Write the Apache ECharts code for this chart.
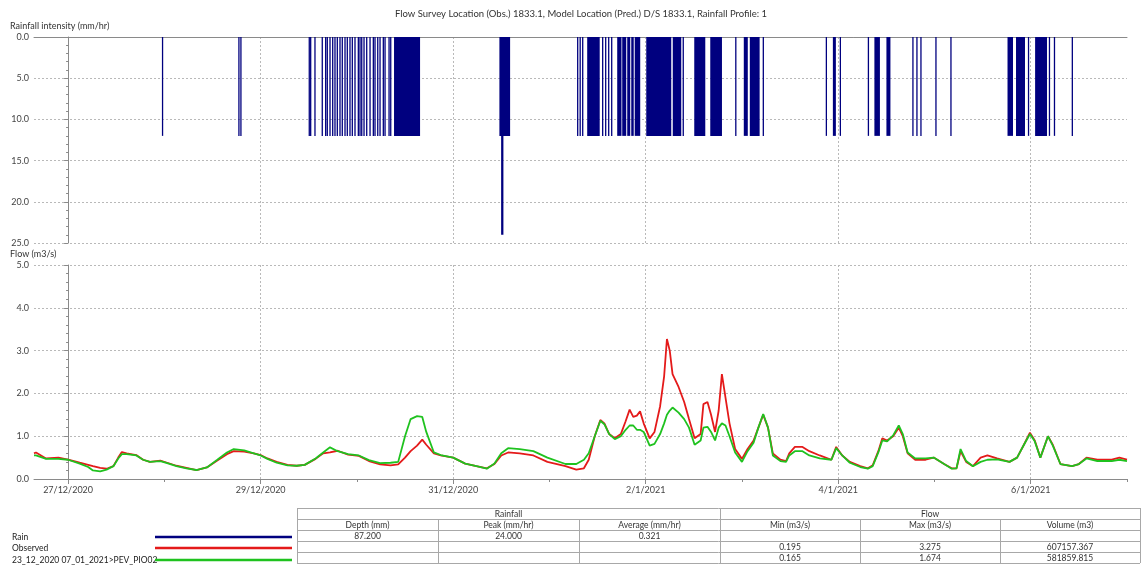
<!DOCTYPE html>
<html><head><meta charset="utf-8">
<script src="https://cdn.jsdelivr.net/npm/echarts@6/dist/echarts.min.js"></script>
<style>html,body{margin:0;padding:0;background:#fff}#c{width:1142px;height:566px}</style>
</head><body><div id="c"></div>
<script>
// ---------- DATA ----------
const titleText = 'Flow Survey Location (Obs.) 1833.1, Model Location (Pred.) D/S 1833.1, Rainfall Profile: 1';
const rainAxisName = 'Rainfall intensity (mm/hr)';
const flowAxisName = 'Flow (m3/s)';
// time origin 27/12/2020 00:00, times in hours from it
const xStartHours = -8.5;
const xEndHours = 264;
const flowHours = [
 -8.5,-8,-5.5,-2.4,0,2.9,5,6.2,8,9.6,
 11.3,12.5,13.4,14.6,17,18.7,20.4,23,24.7,27,
 29.5,32,34.6,37.2,39.6,41.3,43.9,46.3,48,49.7,
 52,54.7,57,59,61.7,63.6,65.3,67.2,69.8,72.5,
 75,77.8,80.4,82.3,84,85.4,87,88.3,89.3,91.2,
 92.9,96,99,101.8,104.4,106.3,108,109.7,112.6,116,
 119.5,124,126.7,128.6,129.8,131.3,132.7,133.7,134.9,136.3,
 137.8,139,140,140.9,141.8,142.6,143.5,145,146.2,147.6,
 148.6,149.3,150,150.7,152.2,153.6,154.8,156.2,157.7,158.4,
 159.4,160.3,161.3,162.2,163,163.9,164.9,166.3,168,169.4,
 170.9,172.1,173.3,174.5,175.7,177.6,179,179.8,181.2,183.1,
 184.8,187.4,190.3,191.5,193,194.9,197.5,199.4,200.6,202,
 203,204.2,205.7,207.1,208.1,209.3,211.2,213.8,215.8,218.4,
 220.3,221.5,222.5,223.9,225.6,227.5,229.2,231.6,234.7,236.6,
 238.3,239.8,241,242.4,244.3,245.5,247.4,250.3,252,253.9,
 256.6,260.2,262.1,264
];
const observedFlow = [
 0.60,0.62,0.48,0.50,0.45,0.38,0.33,0.30,0.26,0.24,
 0.30,0.50,0.63,0.60,0.56,0.45,0.40,0.43,0.38,0.31,
 0.26,0.21,0.27,0.43,0.58,0.65,0.64,0.60,0.56,0.48,
 0.40,0.33,0.31,0.33,0.47,0.60,0.62,0.66,0.57,0.54,
 0.42,0.34,0.32,0.34,0.50,0.65,0.78,0.92,0.80,0.60,
 0.55,0.50,0.36,0.30,0.25,0.35,0.55,0.62,0.60,0.55,
 0.40,0.30,0.22,0.25,0.45,1.00,1.38,1.30,1.05,0.95,
 1.05,1.35,1.62,1.45,1.48,1.58,1.30,0.95,1.10,1.70,
 2.40,3.27,3.00,2.45,2.15,1.80,1.40,0.95,1.05,1.75,
 1.80,1.50,1.10,1.60,2.45,1.90,1.30,0.70,0.47,0.70,
 0.90,1.20,1.50,1.20,0.60,0.45,0.42,0.60,0.75,0.75,
 0.65,0.55,0.45,0.75,0.55,0.40,0.30,0.25,0.32,0.65,
 0.95,0.90,1.00,1.20,1.00,0.60,0.45,0.45,0.50,0.35,
 0.25,0.25,0.65,0.40,0.30,0.50,0.55,0.48,0.40,0.50,
 0.80,1.08,0.90,0.50,1.00,0.80,0.35,0.30,0.35,0.50,
 0.45,0.45,0.50,0.45
];
const predictedFlow = [
 0.55,0.55,0.47,0.47,0.45,0.36,0.28,0.20,0.18,0.22,
 0.30,0.48,0.58,0.58,0.55,0.45,0.40,0.42,0.37,0.30,
 0.25,0.21,0.27,0.45,0.62,0.70,0.67,0.60,0.55,0.47,
 0.38,0.32,0.31,0.33,0.48,0.62,0.74,0.65,0.58,0.55,
 0.44,0.37,0.38,0.40,1.00,1.40,1.47,1.45,1.10,0.62,
 0.56,0.50,0.36,0.30,0.24,0.36,0.60,0.72,0.70,0.65,
 0.50,0.35,0.35,0.45,0.60,1.00,1.36,1.28,1.05,0.93,
 1.00,1.15,1.25,1.25,1.15,1.15,1.10,0.78,0.82,1.05,
 1.30,1.50,1.60,1.67,1.55,1.40,1.20,0.80,0.90,1.20,
 1.22,1.10,0.90,1.20,1.30,1.25,1.00,0.62,0.40,0.65,
 0.85,1.20,1.52,1.20,0.55,0.42,0.40,0.55,0.65,0.65,
 0.55,0.48,0.45,0.72,0.55,0.38,0.28,0.24,0.30,0.62,
 0.90,0.88,1.02,1.25,1.05,0.62,0.48,0.48,0.50,0.35,
 0.24,0.25,0.70,0.42,0.30,0.40,0.45,0.46,0.40,0.50,
 0.80,1.05,0.88,0.50,1.00,0.78,0.35,0.30,0.35,0.48,
 0.42,0.42,0.45,0.42
];
// rainfall pulses: start/end hour, intensity (mm/hr)
const rainStart = [
 23.55,42.59,43.09,60.13,60.48,61.55,63.37,64.22,64.62,65.30,
 65.97,66.54,67.12,67.79,68.36,69.04,69.61,70.28,70.86,71.53,
 72.36,72.78,73.21,73.78,74.45,75.28,76.10,76.52,77.20,77.77,
 78.59,79.02,80.02,80.44,81.26,107.53,107.96,127.05,127.67,128.30,
 129.42,133.28,134.03,134.78,135.53,136.90,138.15,139.40,140.40,141.27,
 144.14,150.75,153.37,156.11,160.10,166.47,168.46,169.96,173.33,189.05,
 190.67,192.54,199.53,201.02,204.02,210.63,211.63,212.63,216.37,220.11,
 234.21,236.33,239.45,241.09,244.67,245.92,250.37
];
const rainEnd = [
 23.55,42.59,43.09,60.13,60.48,61.55,63.37,64.22,64.62,65.30,
 65.97,66.54,67.12,67.79,68.36,69.04,69.61,70.28,70.86,71.53,
 72.36,72.78,73.21,73.78,74.45,75.28,76.10,76.52,77.20,77.77,
 78.59,79.02,80.02,80.44,87.75,110.20,108.53,127.05,127.67,128.30,
 132.54,133.28,134.03,134.78,135.53,137.97,139.15,140.15,141.02,142.64,
 150.38,152.87,153.37,158.86,163.02,166.47,169.46,172.41,173.33,189.05,
 191.42,192.54,199.53,202.40,205.02,210.63,211.63,212.63,216.37,220.11,
 235.58,238.57,239.45,244.06,244.67,245.92,250.37
];
const rainIntensity = [
 12,12,12,12,12,12,12,12,12,12,
 12,12,12,12,12,12,12,12,12,12,
 12,12,12,12,12,12,12,12,12,12,
 12,12,12,12,12,12,24,12,12,12,
 12,12,12,12,12,12,12,12,12,12,
 12,12,12,12,12,12,12,12,12,12,
 12,12,12,12,12,12,12,12,12,12,
 12,12,12,12,12,12,12
];
const rainAxis = {min: 0, max: 25, interval: 5};
const flowAxis = {min: 0, max: 5, interval: 1};
const legendNames = ['Rain', 'Observed', '23_12_2020 07_01_2021>PEV_PIO02'];
const tableGroups = ['Rainfall', 'Flow'];
const tableHeaders = ['Depth (mm)', 'Peak (mm/hr)', 'Average (mm/hr)', 'Min (m3/s)', 'Max (m3/s)', 'Volume (m3)'];
const tableRows = [
 ['87.200', '24.000', '0.321', '', '', ''],
 ['', '', '', '0.195', '3.275', '607157.367'],
 ['', '', '', '0.165', '1.674', '581859.815']
];
// ---------- STYLE ----------
const colors = ['#00007f', '#e41a1a', '#1fc21f'];
const FONT = 'Lato, "Noto Sans", sans-serif';
const T0 = Date.UTC(2020, 11, 27);
const xMin = xStartHours / 24, xMax = xEndHours / 24;
function dayLabel(v) {
  const d = new Date(T0 + Math.round(v) * 86400000);
  return d.getUTCDate() + '/' + (d.getUTCMonth() + 1) + '/' + d.getUTCFullYear();
}
const gridLine = {color: '#b9b9b9', type: [2, 2], width: 1};
const axisGray = '#8a8a8a';
function xAxisCfg(gi, labels) {
  return {
    type: 'value', gridIndex: gi, min: xMin, max: xMax, minInterval: 2, maxInterval: 2,
    axisLine: {show: true, onZero: true, lineStyle: {color: axisGray}},
    axisTick: {show: labels, length: 5, lineStyle: {color: axisGray}},
    axisLabel: {show: labels, showMinLabel: false, showMaxLabel: false, formatter: dayLabel,
      fontSize: 9, color: '#444', margin: 7, fontFamily: FONT},
    splitLine: {show: true, showMinLine: false, showMaxLine: false, lineStyle: gridLine}
  };
}
function yAxisCfg(gi, ax, inverse) {
  return {
    type: 'value', gridIndex: gi, min: ax.min, max: ax.max, interval: ax.interval, inverse: inverse,
    axisLine: {show: true, lineStyle: {color: axisGray}},
    axisTick: {show: true, length: 4, lineStyle: {color: axisGray}},
    minorTick: {show: true, splitNumber: 5, length: 2, lineStyle: {color: axisGray}},
    axisLabel: {formatter: v => v.toFixed(1), fontSize: 9, color: '#444', margin: 5, fontFamily: FONT},
    splitLine: {show: true, lineStyle: gridLine}
  };
}
const oddDays = [];
for (let d = Math.ceil(xMin); d <= xMax; d++) if (d % 2 !== 0) oddDays.push(d);

// ---------- GRAPHICS (title, axis names, legend, table) ----------
const graphics = [];
function txt(x, y, s, opts) {
  graphics.push({type: 'text', x: x, y: y, silent: true,
    style: Object.assign({text: s, fill: '#333', font: '9px ' + FONT, textAlign: 'left', textVerticalAlign: 'middle'}, opts || {})});
}
function ln(x1, y1, x2, y2, color, w) {
  graphics.push({type: 'line', silent: true, shape: {x1, y1, x2, y2}, style: {stroke: color, lineWidth: w}});
}
txt(581, 14, titleText, {textAlign: 'center', font: '9.5px ' + FONT});
txt(10, 26, rainAxisName);
txt(10, 254, flowAxisName);
const legY = [537, 548, 560];
legendNames.forEach((n, i) => {
  txt(12, legY[i], n, {font: '8.5px ' + FONT, fill: '#222'});
  ln(155, legY[i], 292, legY[i], colors[i], 2.5);
});
// table
const colX = [297, 438, 579, 720, 860, 1000, 1140];
const rowY = [508, 519, 530, 541, 552, 563];
const tb = '#a8a8a8';
rowY.forEach(y => ln(colX[0], y + 0.5, colX[6], y + 0.5, tb, 1));
[0, 3, 6].forEach(c => ln(colX[c] + 0.5, rowY[0], colX[c] + 0.5, rowY[5], tb, 1));
[1, 2, 4, 5].forEach(c => ln(colX[c] + 0.5, rowY[1], colX[c] + 0.5, rowY[5], tb, 1));
txt((colX[0] + colX[3]) / 2, (rowY[0] + rowY[1]) / 2 + 0.5, tableGroups[0], {textAlign: 'center', font: '8.5px ' + FONT});
txt((colX[3] + colX[6]) / 2, (rowY[0] + rowY[1]) / 2 + 0.5, tableGroups[1], {textAlign: 'center', font: '8.5px ' + FONT});
tableHeaders.forEach((h, c) => txt((colX[c] + colX[c + 1]) / 2, (rowY[1] + rowY[2]) / 2 + 0.5, h, {textAlign: 'center', font: '8.5px ' + FONT}));
tableRows.forEach((r, ri) => r.forEach((v, c) => {
  if (v) txt((colX[c] + colX[c + 1]) / 2, (rowY[ri + 2] + rowY[ri + 3]) / 2 + 0.5, v, {textAlign: 'center', font: '8.5px ' + FONT});
}));

// ---------- CHART ----------
const chart = echarts.init(document.getElementById('c'), null, {renderer: 'canvas'});
const rainData = rainStart.map((s, i) => [s / 24, rainEnd[i] / 24, rainIntensity[i]]);
chart.setOption({
  animation: false,
  backgroundColor: '#fff',
  textStyle: {fontFamily: FONT},
  grid: [
    {left: 34, right: 15, top: 37, height: 206, containLabel: false, outerBoundsMode: 'none'},
    {left: 34, right: 15, top: 265, height: 214, containLabel: false, outerBoundsMode: 'none'}
  ],
  xAxis: [
    xAxisCfg(0, false),
    xAxisCfg(1, true),
    {type: 'value', gridIndex: 1, min: xMin, max: xMax, position: 'bottom',
     axisLine: {show: false}, axisTick: {show: true, customValues: oddDays, length: 3, lineStyle: {color: axisGray}},
     axisLabel: {show: false}, splitLine: {show: false}}
  ],
  yAxis: [yAxisCfg(0, rainAxis, true), yAxisCfg(1, flowAxis, false)],
  graphic: graphics,
  series: [
    {
      type: 'custom', name: legendNames[0], xAxisIndex: 0, yAxisIndex: 0, clip: true,
      data: rainData, encode: {x: [0, 1], y: 2},
      renderItem: function (params, api) {
        const p0 = api.coord([api.value(0), 0]);
        const p1 = api.coord([api.value(1), api.value(2)]);
        let x = p0[0], w = p1[0] - p0[0];
        if (w < 1.3) { x -= (1.3 - w) / 2; w = 1.3; }
        return {type: 'rect', shape: {x: x, y: p0[1], width: w, height: p1[1] - p0[1]}, style: {fill: colors[0]}};
      }
    },
    {
      type: 'line', name: legendNames[1], xAxisIndex: 1, yAxisIndex: 1, showSymbol: false,
      data: flowHours.map((h, i) => [h / 24, observedFlow[i]]),
      lineStyle: {color: colors[1], width: 1.8}, itemStyle: {color: colors[1]}
    },
    {
      type: 'line', name: legendNames[2], xAxisIndex: 1, yAxisIndex: 1, showSymbol: false,
      data: flowHours.map((h, i) => [h / 24, predictedFlow[i]]),
      lineStyle: {color: colors[2], width: 1.8}, itemStyle: {color: colors[2]}
    }
  ]
});
</script>
</body></html>
